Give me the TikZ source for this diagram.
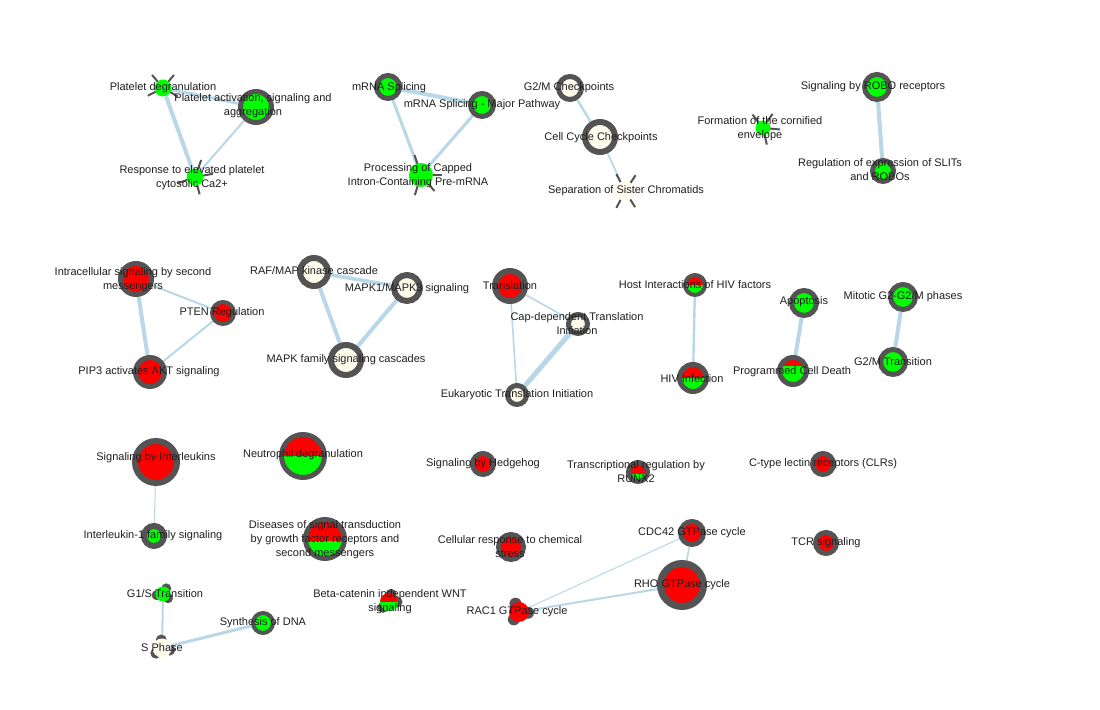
\documentclass[tikz,border=0pt]{standalone}
\usepackage{fontspec}
\setmainfont{Liberation Sans}
\usetikzlibrary{calc}
\definecolor{ringgrey}{RGB}{84,84,84}
\definecolor{edgeblue}{RGB}{184,216,232}
\definecolor{upgreen}{RGB}{0,255,0}
\definecolor{downred}{RGB}{255,0,0}
\definecolor{nonebeige}{RGB}{255,252,236}
\pgfdeclarelayer{canvas}
\pgfdeclarelayer{edges}
\pgfsetlayers{canvas,edges,main}
\tikzset{
  term/.style={circle,draw=ringgrey,inner sep=0pt},
  lone/.style={circle,inner sep=0pt},
  sim/.style={edgeblue,line width=#1pt},
  lbl/.style={font=\fontsize{5.5}{7}\selectfont,align=center,text=black!88,inner sep=0pt},
  spike/.style={ringgrey,line width=1pt},
  lobe/.style={fill=ringgrey},
  halfred/.style={path picture={\fill[downred] ([yshift=#1pt]path picture bounding box.west) rectangle (path picture bounding box.north east);}}
}
\begin{document}
\begin{tikzpicture}[x=0.5pt,y=-0.5pt]
\begin{pgfonlayer}{canvas}
\fill[white] (0,0) rectangle (1100,710);
\end{pgfonlayer}
\useasboundingbox (0,0) rectangle (1100,710);

% ringed terms
\foreach \n/\x/\y/\d/\w/\f in {pact/256/107/15.5/2.5/upgreen, mrna/388/87/11.5/2.5/upgreen,
  major/482/105/11.5/2.5/upgreen, g2mc/570/88/11.5/2.5/nonebeige, ccc/600/137/15/3/nonebeige,
  robo/877/87/12.5/2.5/upgreen, slit/883/171/10.5/2.5/upgreen, intra/136/279/15.5/2.5/downred,
  pten/223/313/11/2/downred, pip3/150/372/14.5/2.5/downred, raf/314/272/14/3/nonebeige,
  mapk1/407/288/13/3/nonebeige, mfam/346/360/15/3/nonebeige, transl/510/286/15/3/downred,
  cap/578/324/9.5/2.5/nonebeige, euk/517/395/9.5/2.5/nonebeige, apop/804/303/12.5/2.5/upgreen,
  mitotic/903/297/12.5/2.5/upgreen, g2mt/893/362/12.5/2.5/upgreen, il/156/462/21/3/downred,
  il1/154/536/10/3/upgreen, hedge/483/464/10.5/2.5/downred, clr/823/464/10.5/2.5/downred,
  chem/511/547/12.5/2.5/downred, cdc/692/533/11.5/2.5/downred, rho/682/585/21.5/3.5/downred,
  tcr/826/543/10.5/2.5/downred, dna/263/623/10/2/upgreen}
  \node[term,fill=\f,minimum size=\d pt,line width=\w pt] (\n) at (\x,\y) {};

% ringed terms, split up/down
\foreach \n/\x/\y/\d/\w/\s in {hosthiv/695/285/10/2/0, hiv/693/378/13.5/2.5/0,
  pcd/793/371/13.5/2.5/2.5, neut/303/456/21.5/2.5/0, dis/325/539/19.5/2.5/-1, runx/638/472/9.5/2.5/-1}
  \node[term,fill=upgreen,halfred=\s,minimum size=\d pt,line width=\w pt] (\n) at (\x,\y) {};

% spiked terms
\node[lone,fill=upgreen,minimum size=8.5pt] (pdeg) at (163,88) {};
\node[lone,fill=upgreen,minimum size=8.5pt] (pca) at (195,177) {};
\node[lone,fill=upgreen,minimum size=12pt] (proc) at (421,175) {};
\node[lone,fill=nonebeige,minimum size=10pt] (sep) at (625,191) {};
\node[lone,fill=upgreen,minimum size=7.5pt] (corn) at (763,128) {};
% lobed terms
\node[lone,fill=downred,minimum size=10pt] (rac1) at (519,612) {};
\node[lone,fill=upgreen,halfred=0,minimum size=9pt] (wnt) at (389,602) {};
\node[lone,fill=upgreen,minimum size=7.5pt] (g1s) at (163,594) {};
\node[lone,fill=nonebeige,minimum size=9.5pt] (sph) at (162,648) {};

\begin{pgfonlayer}{edges}
\foreach \a/\b/\w in {pdeg/pact/1.5, pdeg/pca/2, pact/pca/1, mrna/major/2, mrna/proc/1.5,
  major/proc/1.5, g2mc/ccc/1.2, ccc/sep/0.8, robo/slit/2, intra/pip3/2, intra/pten/1,
  pten/pip3/1, raf/mapk1/1.8, raf/mfam/2, mapk1/mfam/2, transl/cap/0.8, transl/euk/0.8,
  cap/euk/2.5, hosthiv/hiv/1.2, apop/pcd/2, mitotic/g2mt/2, il/il1/0.5, g1s/sph/1,
  sph/dna/1.5, cdc/rac1/0.5, rho/rac1/1, cdc/rho/0.8}
  \draw[sim=\w] (\a) -- (\b);
\foreach \a in {230,310,153,30} \draw[spike] (pdeg.center) -- ++(\a:17);
\foreach \a in {290,350,75,160} \draw[spike] (pca.center) -- ++(\a:18);
\foreach \a in {252,0,107,50} \draw[spike] (proc.center) -- ++(\a:21);
\foreach \a in {243,304,117,58} \draw[spike] (sep.center) -- ++(\a:19);
\foreach \a in {232,304,5,77} \draw[spike] (corn.center) -- ++(\a:17);
\foreach \a in {247,125,5} \fill[lobe] ($(rac1)+(\a:9)$) circle[radius=6];
\foreach \a in {285,0,138} \fill[lobe] ($(wnt)+(\a:8)$) circle[radius=5.5];
\foreach \a in {300,40,170} \fill[lobe] ($(g1s)+(\a:6.5)$) circle[radius=5];
\foreach \a in {265,140,15} \fill[lobe] ($(sph)+(\a:8)$) circle[radius=5.5];
\end{pgfonlayer}

% labels
\node[lbl] (t-pdeg) at (163,88) {Platelet degranulation};
\node[lbl] (t-pact) at (253,106) {Platelet activation, signaling and\\aggregation};
\node[lbl] (t-pca) at (192,178) {Response to elevated platelet\\cytosolic Ca2+};
\node[lbl] (t-mrna) at (389,88) {mRNA Splicing};
\node[lbl] (t-major) at (482,105) {mRNA Splicing - Major Pathway};
\node[lbl] (t-proc) at (418,176) {Processing of Capped\\Intron-Containing Pre-mRNA};
\node[lbl] (t-g2mc) at (569,88) {G2/M Checkpoints};
\node[lbl] (t-ccc) at (601,138) {Cell Cycle Checkpoints};
\node[lbl] (t-sep) at (626,191) {Separation of Sister Chromatids};
\node[lbl] (t-corn) at (760,129) {Formation of the cornified\\envelope};
\node[lbl] (t-robo) at (873,87) {Signaling by ROBO receptors};
\node[lbl] (t-slit) at (880,170) {Regulation of expression of SLITs\\and ROBOs};
\node[lbl] (t-intra) at (133,280) {Intracellular signaling by second\\messengers};
\node[lbl] (t-pten) at (222,313) {PTEN Regulation};
\node[lbl] (t-pip3) at (149,372) {PIP3 activates AKT signaling};
\node[lbl] (t-raf) at (314,271) {RAF/MAP kinase cascade};
\node[lbl] (t-mapk1) at (407,289) {MAPK1/MAPK3 signaling};
\node[lbl] (t-mfam) at (346,360) {MAPK family signaling cascades};
\node[lbl] (t-transl) at (510,286) {Translation};
\node[lbl] (t-cap) at (577,324) {Cap-dependent Translation\\Initiation};
\node[lbl] (t-euk) at (517,395) {Eukaryotic Translation Initiation};
\node[lbl] (t-hosthiv) at (695,285) {Host Interactions of HIV factors};
\node[lbl] (t-hiv) at (692,379) {HIV Infection};
\node[lbl] (t-apop) at (804,302) {Apoptosis};
\node[lbl] (t-pcd) at (792,372) {Programmed Cell Death};
\node[lbl] (t-mitotic) at (903,297) {Mitotic G2-G2/M phases};
\node[lbl] (t-g2mt) at (893,362) {G2/M Transition};
\node[lbl] (t-il) at (156,458) {Signaling by Interleukins};
\node[lbl] (t-il1) at (153,536) {Interleukin-1 family signaling};
\node[lbl] (t-neut) at (303,455) {Neutrophil degranulation};
\node[lbl] (t-dis) at (325,540) {Diseases of signal transduction\\by growth factor receptors and\\second messengers};
\node[lbl] (t-hedge) at (483,464) {Signaling by Hedgehog};
\node[lbl] (t-runx) at (636,472) {Transcriptional regulation by\\RUNX2};
\node[lbl] (t-clr) at (823,464) {C-type lectin receptors (CLRs)};
\node[lbl] (t-chem) at (510,547) {Cellular response to chemical\\stress};
\node[lbl] (t-cdc) at (692,533) {CDC42 GTPase cycle};
\node[lbl] (t-rho) at (682,585) {RHO GTPase cycle};
\node[lbl] (t-tcr) at (826,543) {TCR signaling};
\node[lbl] (t-rac1) at (517,612) {RAC1 GTPase cycle};
\node[lbl] (t-wnt) at (390,602) {Beta-catenin independent WNT\\signaling};
\node[lbl] (t-g1s) at (165,594) {G1/S Transition};
\node[lbl] (t-sph) at (162,648) {S Phase};
\node[lbl] (t-dna) at (263,623) {Synthesis of DNA};
\end{tikzpicture}
\end{document}
